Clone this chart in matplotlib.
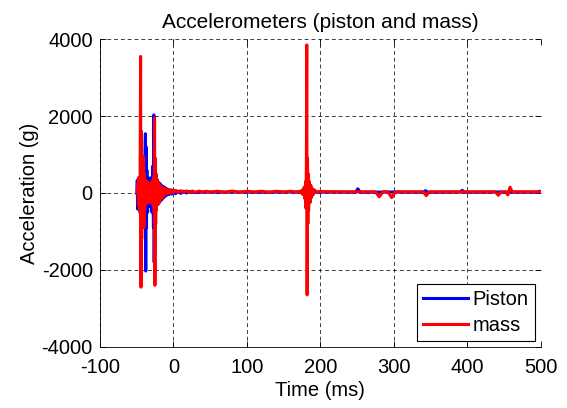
import matplotlib
matplotlib.use("Agg")
import matplotlib.pyplot as plt

# Piston accelerometer (ms, g)
piston_t = [-49.5, -49, -48.5, -48, -47.5, -47, -46.5, -46, -45, -44, -43, -42, -41, -40,
            -39, -38.5, -38, -37.5, -37, -36.5, -36, -35, -34, -33, -32, -31, -30, -29,
            -28, -27, -26.5, -26, -25.5, -25, -24, -23, -22, -21, -20, -19, -18, -17,
            -16, -15, -14, -13, -12, -11, -10, -9, -8, -6, -4, -2, 0, 3, 6, 10, 14, 18,
            22, 30, 40, 60, 80, 120, 160, 180, 182, 190, 220, 248, 251, 254, 300, 340,
            343, 346, 390, 393, 396, 440, 495, 498, 500]
piston_g = [0, 330, -420, 300, -380, 250, -300, 200, -250, 300, -350, 400, -500, 600,
            -800, 900, 1540, -2030, 1200, -900, 600, -500, 400, -350, 350, -300, 400, -500,
            700, -900, 2030, -1800, 800, -700, 450, -400, 350, -300, 280, -250, 240, -200,
            200, -160, 170, -120, 150, -80, 120, -60, 100, -40, 80, -30, 60, -20, 50, -10, 45, 0,
            40, 10, 25, 20, 25, 20, 25, 20, 25, 20, 25, 20, 110, 20, 25, 20,
            60, 20, 25, 70, 20, 25, 20, 45, 20]

# Mass accelerometer (ms, g)
mass_t = [-49, -48, -47.5, -47, -46.5, -46, -45.5, -45, -44.5, -44, -43.5, -43, -42.5, -42,
          -41.5, -41, -40.5, -40, -39.5, -39, -38.5, -38, -37, -36, -35, -34, -33, -32,
          -31, -30, -29, -28, -27, -26, -25.5, -25, -24.5, -24, -23.5, -23, -22, -21,
          -20, -19, -18, -17, -16, -15, -14, -13, -12, -11, -10, -8, -6, -4, -2, 0,
          3, 6, 10, 14, 18, 22, 26, 30, 35, 40, 45, 50, 60, 70, 80, 90, 100,
          110, 120, 130, 140, 150, 160, 165, 170, 172, 174, 175, 176, 177, 178, 179, 180, 180.5,
          181, 181.5, 182, 182.5, 183, 183.5, 184, 185, 186, 187, 188, 189, 190, 192, 195, 200,
          220, 250, 275, 280, 285, 292, 297, 302, 340, 344, 348, 400, 438, 442, 446, 452, 455,
          458, 461, 470, 500]
mass_g = [0, 250, -300, 400, -350, 300, -500, 1200, 3550, -2450, 1600, -1200, 800, -700,
          600, -500, 950, -900, 500, -450, 350, -300, 250, -250, 300, -200, 200, -250,
          250, -200, 300, -300, 400, -500, 1950, -2400, 900, -800, 500, -450, 350, -300,
          250, -250, 200, -180, 160, -120, 130, -80, 110, -40, 100, -20, 90, 0, 80, 10,
          70, 15, 60, 20, 55, 15, 50, 20, 50, 20, 45, 25, 45, 20, 50, 20, 45,
          25, 45, 20, 45, 25, 45, 20, 40, 20, 60, -20, 80, -50, 150, -150, 300, -400,
          800, 3850, -2650, 900, -800, 500, -450, 300, -250, 200, -120, 120, -50, 80, 20, 40,
          30, 30, 30, -100, 30, 30, -120, 30, 30, -70, 30, 30, 30, -60, 30, 30, -50,
          150, 30, 30, 30]

x_ticks = [-100, 0, 100, 200, 300, 400, 500]
y_ticks = [-4000, -2000, 0, 2000, 4000]

plt.rcParams["font.family"] = ["Liberation Sans", "DejaVu Sans"]
plt.rcParams["axes.unicode_minus"] = False

fig = plt.figure(figsize=(5.67, 4.08), dpi=100)
ax = fig.add_axes([0.176, 0.150, 0.778, 0.754])

ax.plot(piston_t, piston_g, color="#0000ff", linewidth=2.2, label="Piston")
ax.plot(mass_t, mass_g, color="#ff0000", linewidth=2.2, label="mass")

ax.set_xlim(-100, 500)
ax.set_ylim(-4000, 4000)
ax.set_xticks(x_ticks)
ax.set_yticks(y_ticks)
ax.tick_params(direction="in", top=True, right=True, labelsize=14.5, length=4,
               width=0.6)
ax.tick_params(axis="x", pad=8)
ax.tick_params(axis="y", pad=5)
ax.grid(True, color="black", linestyle=(0, (4, 3)), linewidth=0.7, alpha=0.75)
ax.spines["top"].set_visible(False)
ax.spines["right"].set_visible(False)
for side in ("left", "bottom"):
    ax.spines[side].set_linewidth(0.6)

ax.set_title("Accelerometers (piston and mass)", fontsize=15, pad=8)
ax.set_xlabel("Time (ms)", fontsize=14.5, labelpad=3)
ax.set_ylabel("Acceleration (g)", fontsize=14.5, labelpad=2)

leg = ax.legend(loc="lower right", fontsize=14.5, handlelength=2.2, handletextpad=0.25,
                borderpad=0.3, labelspacing=0.32, fancybox=False, edgecolor="black",
                framealpha=1, borderaxespad=0.3)
leg.get_frame().set_linewidth(0.8)

fig.savefig("out.png", dpi=100)
